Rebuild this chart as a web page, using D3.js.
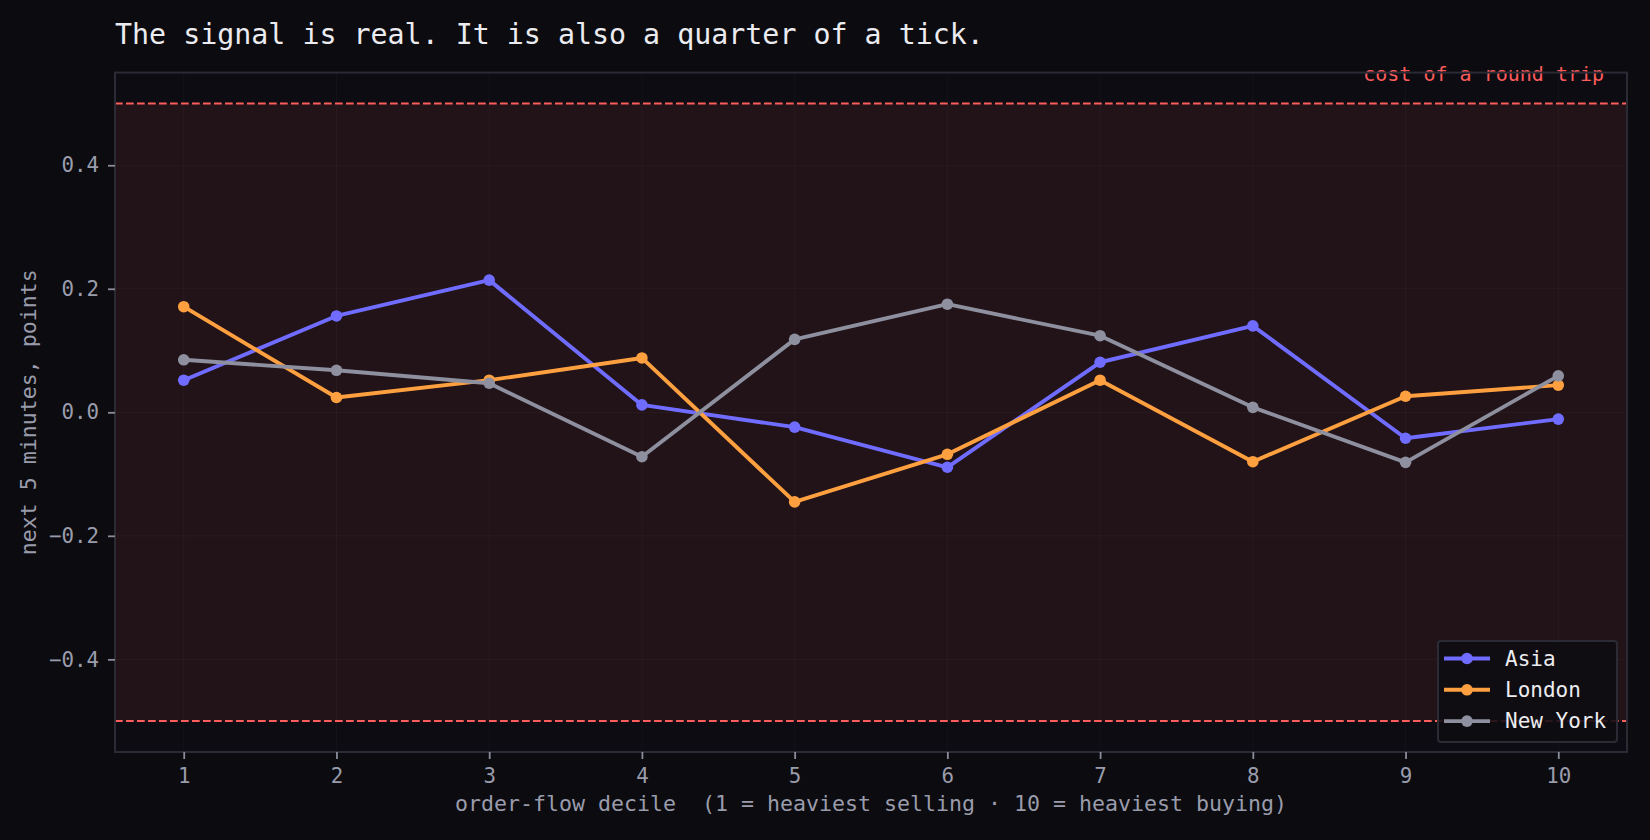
<!DOCTYPE html>
<html>
<head>
<meta charset="utf-8">
<script src="https://cdn.jsdelivr.net/npm/d3@7"></script>
<style>
  html, body { margin: 0; padding: 0; background: #0b0b10; }
  svg { display: block; }
  text { font-family: "DejaVu Sans Mono", monospace; white-space: pre; }
</style>
</head>
<body>
<svg id="chart" width="1650" height="840"></svg>
<script>
// ---- data ----
const deciles = [1, 2, 3, 4, 5, 6, 7, 8, 9, 10];
const asia    = [0.052, 0.156, 0.214, 0.012, -0.024, -0.089, 0.081, 0.140, -0.042, -0.011];
const london  = [0.171, 0.024, 0.052, 0.088, -0.145, -0.068, 0.052, -0.080, 0.026, 0.044];
const newYork = [0.085, 0.068, 0.047, -0.072, 0.118, 0.175, 0.124, 0.008, -0.081, 0.059];
const seriesNames = ["Asia", "London", "New York"];
const yTickValues = [-0.4, -0.2, 0.0, 0.2, 0.4];
const costLevel = 0.5;
const costLabel = "cost of a round trip";
const titleText = "The signal is real. It is also a quarter of a tick.";
const xLabel = "order-flow decile  (1 = heaviest selling · 10 = heaviest buying)";
const yLabel = "next 5 minutes, points";

const colors = { "Asia": "#6f6cff", "London": "#ffa040", "New York": "#8e909f" };
const seriesValues = { "Asia": asia, "London": london, "New York": newYork };

// ---- layout ----
const W = 1650, H = 840;
const m = { left: 115, right: 23, top: 72.6, bottom: 88 };
const svg = d3.select("#chart");

svg.append("rect").attr("width", W).attr("height", H).attr("fill", "#0b0b10");

const x = d3.scaleLinear().domain([0.55, 10.45]).range([m.left, W - m.right]);
const y = d3.scaleLinear().domain([-0.55, 0.55]).range([H - m.bottom, m.top]);

// axes background
svg.append("rect")
  .attr("x", x.range()[0]).attr("y", y.range()[1])
  .attr("width", x.range()[1] - x.range()[0])
  .attr("height", y.range()[0] - y.range()[1])
  .attr("fill", "#0c0c12");

// cost band
svg.append("rect")
  .attr("x", x.range()[0]).attr("y", y(costLevel))
  .attr("width", x.range()[1] - x.range()[0])
  .attr("height", y(-costLevel) - y(costLevel))
  .attr("fill", "#211318");

// grid
const grid = svg.append("g").attr("stroke", "#ffffff").attr("stroke-opacity", 0.028).attr("stroke-width", 1.2);
deciles.forEach(d => grid.append("line")
  .attr("x1", x(d)).attr("x2", x(d)).attr("y1", y.range()[1]).attr("y2", y.range()[0]));
yTickValues.forEach(v => grid.append("line")
  .attr("x1", x.range()[0]).attr("x2", x.range()[1]).attr("y1", y(v)).attr("y2", y(v)));

// cost lines
[costLevel, -costLevel].forEach(v => svg.append("line")
  .attr("x1", x.range()[0]).attr("x2", x.range()[1])
  .attr("y1", y(v)).attr("y2", y(v))
  .attr("stroke", "#ff5c5c").attr("stroke-width", 2)
  .attr("stroke-dasharray", "7.7,3.3"));

svg.append("text")
  .attr("x", x(10.3)).attr("y", y(costLevel) - 22)
  .attr("text-anchor", "end")
  .attr("fill", "#ff5c5c")
  .style("font-size", "20px")
  .text(costLabel);

// series
const line = d3.line().x((d, i) => x(deciles[i])).y(d => y(d));
seriesNames.forEach(name => {
  const vals = seriesValues[name];
  svg.append("path").datum(vals)
    .attr("d", line)
    .attr("fill", "none")
    .attr("stroke", colors[name])
    .attr("stroke-width", 3.9)
    .attr("stroke-linejoin", "round");
  svg.append("g").selectAll("circle").data(vals).join("circle")
    .attr("cx", (d, i) => x(deciles[i]))
    .attr("cy", d => y(d))
    .attr("r", 5.8)
    .attr("fill", colors[name]);
});

// spines
svg.append("rect")
  .attr("x", x.range()[0]).attr("y", y.range()[1])
  .attr("width", x.range()[1] - x.range()[0])
  .attr("height", y.range()[0] - y.range()[1])
  .attr("fill", "none").attr("stroke", "#2b2b35").attr("stroke-width", 2);

// axes
const xAxis = svg.append("g")
  .attr("transform", `translate(0,${y.range()[0]})`)
  .call(d3.axisBottom(x).tickValues(deciles).tickSize(7).tickPadding(9).tickFormat(d3.format("d")));
const yAxis = svg.append("g")
  .attr("transform", `translate(${x.range()[0]},0)`)
  .call(d3.axisLeft(y).tickValues(yTickValues).tickSize(7).tickPadding(9).tickFormat(d3.format(".1f")));
[xAxis, yAxis].forEach(g => {
  g.select(".domain").remove();
  g.selectAll(".tick line").attr("stroke", "#8a8c99").attr("stroke-width", 1.8);
  g.selectAll(".tick text").attr("fill", "#9a9cab")
    .style("font-size", "20.8px").style("font-family", '"DejaVu Sans Mono", monospace');
});

// title & labels
svg.append("text")
  .attr("x", m.left).attr("y", 44)
  .attr("fill", "#ececf0")
  .style("font-size", "28.3px")
  .text(titleText);

svg.append("text")
  .attr("x", (x.range()[0] + x.range()[1]) / 2).attr("y", 811)
  .attr("text-anchor", "middle")
  .attr("fill", "#9a9cab")
  .style("font-size", "21.6px")
  .text(xLabel);

svg.append("text")
  .attr("transform", `translate(36,${(y.range()[0] + y.range()[1]) / 2}) rotate(-90)`)
  .attr("text-anchor", "middle")
  .attr("fill", "#9a9cab")
  .style("font-size", "21.6px")
  .text(yLabel);

// legend
const lg = svg.append("g").attr("transform", "translate(1438,641)");
lg.append("rect")
  .attr("width", 179).attr("height", 101)
  .attr("rx", 3).attr("ry", 3)
  .attr("fill", "#0c0c11").attr("fill-opacity", 0.88)
  .attr("stroke", "#2b2b35").attr("stroke-width", 2);
seriesNames.forEach((name, i) => {
  const cy = 17.5 + i * 31.3;
  lg.append("line").attr("x1", 6).attr("x2", 52).attr("y1", cy).attr("y2", cy)
    .attr("stroke", colors[name]).attr("stroke-width", 3.9);
  lg.append("circle").attr("cx", 29).attr("cy", cy).attr("r", 5.8).attr("fill", colors[name]);
  lg.append("text").attr("x", 67).attr("y", cy + 7)
    .attr("fill", "#ececf0").style("font-size", "21px").text(name);
});
</script>
</body>
</html>
